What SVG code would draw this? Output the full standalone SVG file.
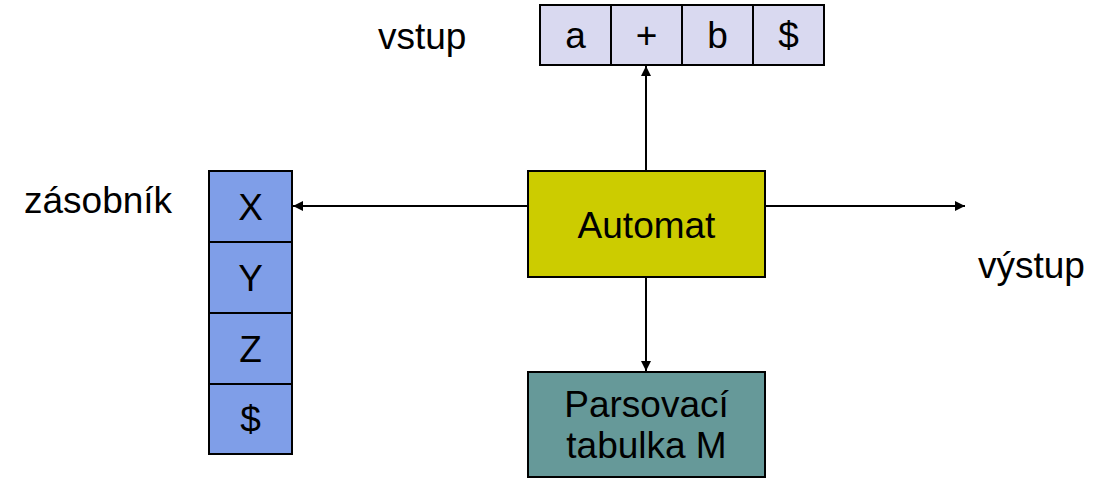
<svg xmlns="http://www.w3.org/2000/svg" width="1111" height="480" viewBox="0 0 1111 480">
<style>
text{font-family:"Liberation Sans",Arial,sans-serif;font-size:37px;fill:#000}
.c{text-anchor:middle}
.box{stroke:#000;stroke-width:2}
.in{fill:#D9D9F0}
.st{fill:#7F9EE8}
.ln{stroke:#000;stroke-width:2;fill:none}
</style>
<defs>
<marker id="ah" viewBox="0 0 10 10" refX="10" refY="5" markerWidth="10" markerHeight="10" markerUnits="userSpaceOnUse" orient="auto">
<path d="M0,0 L10,5 L0,10 z" fill="#000"/>
</marker>
</defs>
<rect width="1111" height="480" fill="#fff"/>
<g id="input">
<rect class="box in" x="540" y="5" width="71" height="60"/>
<rect class="box in" x="611" y="5" width="71" height="60"/>
<rect class="box in" x="682" y="5" width="71" height="60"/>
<rect class="box in" x="753" y="5" width="71" height="60"/>
<text class="c" x="575.5" y="48">a</text>
<text class="c" x="646.5" y="48">+</text>
<text class="c" x="717.5" y="48">b</text>
<text class="c" x="788.5" y="48">$</text>
</g>
<g id="stack">
<rect class="box st" x="209" y="171" width="83" height="71"/>
<rect class="box st" x="209" y="242" width="83" height="71"/>
<rect class="box st" x="209" y="313" width="83" height="71"/>
<rect class="box st" x="209" y="384" width="83" height="70"/>
<text class="c" x="250.5" y="220">X</text>
<text class="c" x="250.5" y="291">Y</text>
<text class="c" x="250.5" y="362">Z</text>
<text class="c" x="250.5" y="432">$</text>
</g>
<g id="automat">
<rect class="box" x="528" y="171" width="237" height="106" fill="#CCCC00"/>
<text class="c" x="646.5" y="238">Automat</text>
</g>
<g id="table">
<rect class="box" x="528" y="372" width="237" height="105" fill="#669999"/>
<text class="c" x="646.5" y="417">Parsovací</text>
<text class="c" x="646.5" y="458">tabulka M</text>
</g>
<g id="labels">
<text x="378" y="49">vstup</text>
<text x="24" y="213">zásobník</text>
<text x="978" y="278">výstup</text>
</g>
<g id="connectors">
<line class="ln" x1="646" y1="171" x2="646" y2="66" marker-end="url(#ah)"/>
<line class="ln" x1="528" y1="206" x2="293" y2="206" marker-end="url(#ah)"/>
<line class="ln" x1="765" y1="206" x2="965" y2="206" marker-end="url(#ah)"/>
<line class="ln" x1="646" y1="277" x2="646" y2="371" marker-end="url(#ah)"/>
</g>
</svg>
